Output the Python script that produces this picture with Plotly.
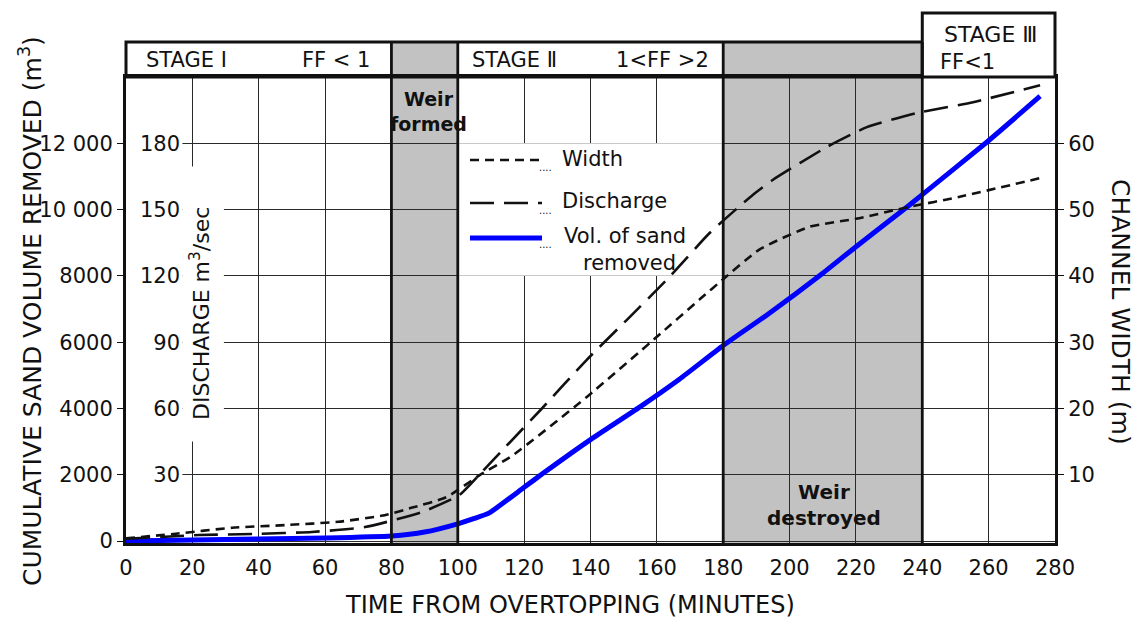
import plotly.graph_objects as go

# ---------------- data ----------------
time_vol = [0, 20, 40, 60, 80, 90, 100, 105, 109.5, 120, 125.8, 140, 154.8, 166.9,
            180, 194, 210, 220, 235.4, 240, 259.5, 275.5]
sand_volume = [0, 30, 60, 90, 150, 270, 520, 680, 850, 1620, 2050, 3060, 4040, 4890,
               5900, 6880, 8080, 8880, 10080, 10450, 12040, 13420]

time_width = [0, 15, 32, 48, 64, 78, 86, 96.5, 106.5, 116.5, 138.8, 160, 173, 180,
              191, 206, 221, 236, 251, 276]
channel_width = [0.4, 1.1, 2.0, 2.4, 2.9, 3.9, 5.0, 6.6, 9.9, 12.9, 21.7, 30.8, 36.5, 39.5,
                 44.0, 47.4, 48.7, 50.4, 51.9, 54.8]

time_q = [0, 22, 39, 56, 72, 89, 100.5, 106.5, 113.5, 125.5, 138.8, 150.9, 163.8,
          175.9, 188.9, 194.9, 211.2, 223.3, 238.4, 255.3, 275.5]
discharge = [1.0, 2.7, 3.2, 4.1, 6.3, 13.0, 20.8, 30.0, 41.2, 60.2, 81.9, 100, 119.5,
             139.4, 156.6, 163.4, 178.3, 187.3, 193.7, 198.6, 206.3]

x_ticks = list(range(0, 281, 20))
sand_ticks = [0, 2000, 4000, 6000, 8000, 10000, 12000]
sand_ticktext = ["0", "2000", "4000", "6000", "8000", "10 000", "12 000"]
q_ticks = [30, 60, 90, 120, 150, 180]
w_ticks = [10, 20, 30, 40, 50, 60]

weir_formed = (80, 100)
weir_destroyed = (180, 240)
stage_bounds = [80, 100, 180, 240]

# ---------------- layout geometry ----------------
W, H = 1135, 619
ML, MR, MT, MB = 126, 80, 77, 76
PW, PH = W - ML - MR, H - MT - MB
X_RANGE = [0, 280]
SAND_RANGE = [-60, 14000]
W_RANGE = [SAND_RANGE[0] / 200, SAND_RANGE[1] / 200]
Q_RANGE = [SAND_RANGE[0] * 0.015, SAND_RANGE[1] * 0.015]

FONT = "'DejaVu Sans', sans-serif"
INK = "#111111"
SHADE = "#c2c2c2"


def px(xp):
    return (xp - ML) / PW


def py(yp):
    return (H - MB - yp) / PH


def tx(t):
    return (t - X_RANGE[0]) / (X_RANGE[1] - X_RANGE[0])


HEADER_TOP = py(42)
STAGE3_TOP = py(13)

fig = go.Figure()

fig.add_trace(go.Scatter(x=time_width, y=channel_width, yaxis="y2", mode="lines",
                         name="Width", line=dict(color=INK, width=2.6, dash="9px,6px",
                                                  shape="spline", smoothing=0.5)))
fig.add_trace(go.Scatter(x=time_q, y=discharge, yaxis="y3", mode="lines",
                         name="Discharge", line=dict(color=INK, width=2.6, dash="24px,10px",
                                                      shape="spline", smoothing=0.5)))
fig.add_trace(go.Scatter(x=time_vol, y=sand_volume, yaxis="y", mode="lines",
                         name="Vol. of sand removed", line=dict(color="#0000ff", width=5,
                                                                 shape="spline", smoothing=0.5)))

shapes = []
# shaded weir periods (under the grid), extending into the header
for a, b in (weir_formed, weir_destroyed):
    shapes.append(dict(type="rect", xref="paper", yref="paper", x0=tx(a), x1=tx(b),
                       y0=0, y1=HEADER_TOP, fillcolor=SHADE, line=dict(width=0), layer="below"))
# white masks over the grid (label column, DISCHARGE title, legend box)
shapes.append(dict(type="rect", xref="x", yref="y", x0=0, x1=17, y0=1000, y1=13500,
                   fillcolor="white", line=dict(width=0), layer="between"))
shapes.append(dict(type="rect", xref="x", yref="y", x0=17, x1=29.5, y0=3000, y1=11300,
                   fillcolor="white", line=dict(width=0), layer="between"))
shapes.append(dict(type="rect", xref="x", yref="y", x0=100, x1=180, y0=8000, y1=12000,
                   fillcolor="white", line=dict(width=0), layer="between"))
# header boxes
shapes.append(dict(type="rect", xref="paper", yref="paper", x0=0, x1=tx(240), y0=1, y1=HEADER_TOP,
                   line=dict(color=INK, width=3), fillcolor="rgba(0,0,0,0)"))
shapes.append(dict(type="rect", xref="paper", yref="paper", x0=tx(240), x1=1, y0=1, y1=STAGE3_TOP,
                   line=dict(color=INK, width=3), fillcolor="white"))
# heavy stage boundary lines
for t in stage_bounds:
    shapes.append(dict(type="line", xref="paper", yref="paper", x0=tx(t), x1=tx(t), y0=0,
                       y1=HEADER_TOP, line=dict(color=INK, width=2.8)))

# legend samples
leg = [(160, dict(color=INK, width=2.6, dash="9px,6px")),
       (203, dict(color=INK, width=2.6, dash="24px,10px")),
       (238, dict(color="#0000ff", width=5))]
for yy, ln in leg:
    shapes.append(dict(type="line", xref="paper", yref="paper", x0=px(470), x1=px(542),
                       y0=py(yy), y1=py(yy), line=ln))

ann = []


def text(xp, yp, s, size, xanchor="center", angle=0, bold=False, yanchor="middle"):
    ann.append(dict(xref="paper", yref="paper", x=px(xp), y=py(yp), text=s, showarrow=False,
                    xanchor=xanchor, yanchor=yanchor, textangle=angle,
                    font=dict(family=FONT, size=size, color=INK,
                              weight="bold" if bold else "normal")))


# legend texts
text(560, 159, "Width", 21, "left")
text(560, 201, "Discharge", 21, "left")
text(562, 236, "Vol. of sand", 21, "left")
text(629, 263, "removed", 21)
for yy in (168, 210, 245):
    text(537, yy, "....", 10, "left")

# header texts
text(144, 60, "STAGE Ⅰ", 21, "left")
text(300, 60, "FF < 1", 21, "left")
text(470, 60, "STAGE Ⅱ", 21, "left")
text(614, 60, "1<FF >2", 21, "left")
text(990, 35, "STAGE Ⅲ", 22)
text(967, 62, "FF<1", 21)

# in-plot notes
text(428, 111, "Weir<br>formed", 19, bold=True)
text(824, 505, "Weir<br>destroyed", 20, bold=True)

# axis titles
text(30, 311, "CUMULATIVE SAND VOLUME REMOVED (m<sup>3</sup>)", 25, angle=-90)
text(200, 314, "DISCHARGE m<sup>3</sup>/sec", 22, angle=-90)
text(1121, 312, "CHANNEL WIDTH (m)", 25, angle=90)
text(570, 605, "TIME FROM OVERTOPPING (MINUTES)", 24)

tickfont = dict(family=FONT, size=21, color=INK)

fig.update_layout(
    width=W, height=H,
    margin=dict(l=ML, r=MR, t=MT, b=MB),
    paper_bgcolor="white", plot_bgcolor="rgba(0,0,0,0)",
    showlegend=False,
    xaxis=dict(range=X_RANGE, tickvals=x_ticks, showgrid=True, gridcolor="#2a2a2a",
               gridwidth=1.2, showline=True, linecolor=INK, linewidth=3, mirror=True,
               ticks="", ticklabelstandoff=4, tickfont=tickfont, zeroline=False),
    yaxis=dict(range=SAND_RANGE, tickvals=sand_ticks, ticktext=sand_ticktext,
               showgrid=True, gridcolor="#2a2a2a", gridwidth=1.2, showline=True,
               linecolor=INK, linewidth=3, ticks="outside", ticklen=6, tickcolor=INK,
               tickfont=tickfont, zeroline=False),
    yaxis2=dict(range=W_RANGE, tickvals=w_ticks, overlaying="y", side="right", anchor="x",
                showgrid=False, showline=True, linecolor=INK, linewidth=3,
                ticks="outside", ticklen=6, tickcolor=INK, tickfont=tickfont, zeroline=False),
    yaxis3=dict(range=Q_RANGE, tickvals=q_ticks, overlaying="y", side="left", anchor="free",
                position=px(180), showgrid=False, showline=False, ticks="",
                tickfont=tickfont, zeroline=False),
    shapes=shapes,
    annotations=ann,
)

fig.write_html("out.html")
